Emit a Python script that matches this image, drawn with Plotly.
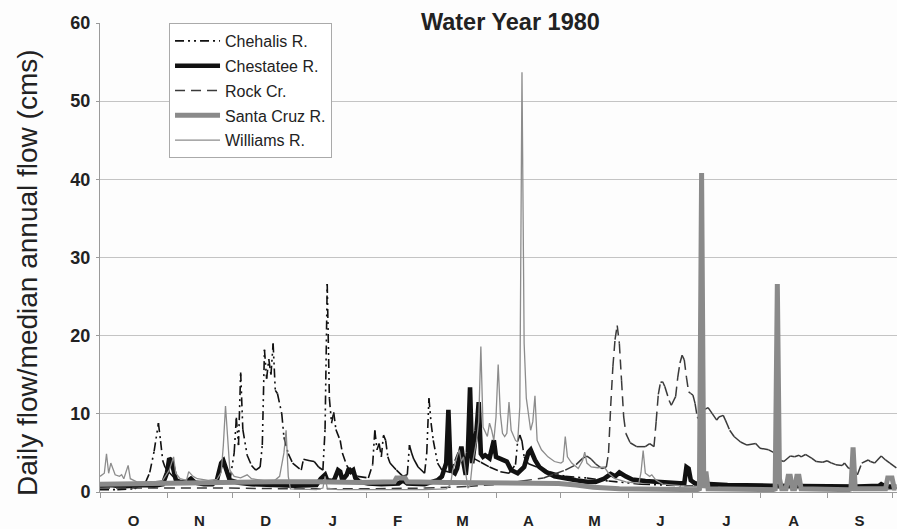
import plotly.graph_objects as go

# Water year 1980: day 0 = 1 Oct 1979. Values are daily flow divided by median annual flow.
month_labels = ["O", "N", "D", "J", "F", "M", "A", "M", "J", "J", "A", "S"]
month_starts = [0, 31, 61, 92, 123, 152, 183, 213, 244, 274, 305, 336, 366]

chehalis_day = [0, 8, 16, 18, 21, 23, 25, 27, 28, 29, 30, 32, 35, 40, 48, 55, 60, 62, 63, 64, 65, 66, 68, 70,
                72, 74, 75, 76, 77, 78, 79, 80, 81, 82, 84, 85, 87, 89, 93, 94, 97, 99, 101, 103, 104, 105,
                106, 107, 108, 109, 111, 112, 114, 116, 119, 124, 126, 127, 128, 129, 130, 131, 132, 133,
                134, 137, 140, 142, 143, 144, 145, 147, 150, 151, 152, 153, 154, 156, 158, 162, 164, 166,
                168, 170, 172, 176, 180, 185, 189, 192, 193, 194, 195, 196, 198, 202, 208, 215, 225, 235,
                250, 270, 300, 330, 368]
chehalis_q = [0.3, 0.3, 0.4, 0.8, 1.2, 2.5, 5.2, 8.8, 6.5, 4.0, 3.2, 2.5, 1.6, 1.3, 1.1, 1.0, 1.4, 5.0, 9.5,
              6.0, 15.3, 8.0, 4.7, 3.4, 2.8, 3.2, 6.0, 18.2, 14.5, 17.0, 15.0, 19.0, 13.0, 12.6, 10.0, 7.0,
              4.9, 3.7, 2.8, 4.2, 4.0, 3.9, 3.2, 2.8, 8.0, 26.6, 12.0, 8.8, 10.2, 8.0, 6.6, 5.0, 3.4, 2.5,
              2.0, 1.8, 3.5, 7.9, 5.4, 6.2, 4.5, 7.3, 6.6, 4.5, 3.7, 2.8, 2.0, 2.2, 6.0, 5.0, 4.2, 3.2, 2.4,
              5.0, 12.0, 8.8, 6.6, 3.7, 2.8, 2.5, 4.0, 5.4, 4.0, 4.7, 4.4, 3.8, 3.2, 2.6, 2.4, 3.5, 6.5, 7.3,
              6.5, 4.5, 3.6, 3.2, 2.6, 2.0, 1.8, 1.4, 1.0, 0.8, 0.6, 0.5, 0.5]

chestatee_day = [0, 5, 10, 15, 20, 25, 29, 31, 32, 33, 34, 35, 37, 40, 42, 44, 48, 52, 54, 55, 56, 57, 58, 59,
                 60, 64, 70, 80, 90, 100, 102, 104, 105, 108, 110, 111, 112, 114, 115, 116, 117, 118, 120,
                 124, 130, 138, 140, 142, 150, 156, 158, 160, 161, 162, 164, 165, 166, 167, 168, 169, 170,
                 171, 172, 173, 174, 175, 176, 177, 178, 180, 182, 183, 186, 188, 190, 193, 196, 198, 199,
                 201, 203, 206, 210, 215, 220, 225, 229, 233, 236, 238, 240, 243, 246, 252, 260, 268, 270,
                 271, 272, 273, 275, 290, 310, 330, 350, 360, 361, 363, 368]
chestatee_q = [0.8, 0.9, 0.7, 0.8, 0.9, 0.8, 1.0, 2.5, 4.3, 4.0, 2.5, 1.6, 1.2, 1.3, 1.7, 1.2, 1.0, 1.0, 1.5,
               2.4, 3.7, 4.0, 3.0, 2.0, 1.5, 1.2, 1.0, 0.9, 0.8, 0.9, 1.7, 2.2, 1.5, 1.4, 2.8, 2.6, 1.5, 2.2,
               3.0, 2.6, 2.8, 1.8, 1.3, 1.1, 1.0, 1.1, 1.5, 1.1, 1.0, 1.5, 2.0, 3.7, 10.5, 2.8, 2.4, 3.0,
               4.5, 5.8, 3.7, 2.2, 5.0, 13.4, 3.7, 5.4, 7.9, 11.5, 4.9, 4.5, 4.7, 4.3, 6.6, 4.5, 4.1, 3.9,
               2.8, 2.4, 3.2, 5.1, 5.4, 4.1, 3.2, 2.6, 2.0, 1.7, 1.5, 1.3, 1.3, 1.7, 2.3, 2.0, 2.5, 2.0, 1.6,
               1.4, 1.2, 1.1, 1.1, 3.2, 3.0, 1.5, 1.1, 0.9, 0.8, 0.7, 0.7, 0.8, 1.0, 0.7, 0.7]

rock_day = [0, 30, 60, 90, 120, 150, 170, 185, 195, 205, 210, 215, 220, 223, 225, 227, 229, 232, 234, 235,
            236, 237, 238, 239, 240, 241, 242, 243, 245, 248, 252, 254, 256, 257, 258, 259, 260, 261, 263,
            264, 266, 267, 268, 269, 270, 271, 272, 273, 274, 275, 276, 277, 279, 281, 283, 285, 286, 288,
            289, 291, 293, 296, 299, 303, 305, 309, 311, 314, 316, 319, 321, 323, 324, 326, 329, 331, 334,
            336, 338, 340, 343, 344, 346, 348, 350, 352, 355, 356, 358, 361, 363, 365, 368]
rock_q = [0.5, 0.5, 0.5, 0.4, 0.4, 0.5, 0.7, 1.0, 1.4, 1.8, 2.3, 2.8, 3.5, 4.3, 4.6, 4.2, 3.6, 3.0, 3.2, 5.0,
          11.0, 16.0, 19.5, 21.3, 19.0, 14.3, 9.6, 7.5, 6.3, 5.8, 5.8, 6.2, 5.8, 9.0, 12.5, 14.0, 14.1, 13.5,
          11.7, 11.1, 12.2, 14.7, 16.5, 17.5, 16.9, 14.7, 12.8, 12.6, 12.4, 11.3, 9.6, 9.2, 10.5, 10.8, 10.0,
          9.2, 9.6, 9.8, 9.2, 7.9, 7.1, 6.4, 6.0, 6.2, 5.6, 5.4, 5.1, 4.1, 3.9, 4.6, 4.5, 4.7, 4.5, 4.8, 4.3,
          3.9, 3.8, 4.0, 3.7, 3.5, 3.4, 3.7, 3.0, 3.1, 2.2, 3.7, 4.1, 3.9, 3.7, 4.6, 4.1, 3.7, 3.1]

santacruz_day = [0, 20, 40, 60, 80, 100, 120, 136, 137, 141, 142, 160, 180, 200, 212, 220, 228, 240, 260, 276,
                 277, 278, 279, 280, 281, 300, 311, 312, 313, 314, 315, 317, 318, 319, 320, 321, 322, 323,
                 324, 346, 347, 348, 349, 363, 364, 366, 367, 368]
santacruz_q = [1.0, 1.1, 1.1, 1.2, 1.3, 1.3, 1.2, 1.3, 1.8, 1.8, 1.3, 1.2, 1.2, 1.2, 1.1, 0.9, 0.6, 0.4, 0.3,
               0.3, 0.4, 40.8, 0.5, 2.6, 0.4, 0.3, 0.3, 0.4, 26.6, 1.7, 0.4, 0.4, 2.0, 2.0, 0.4, 0.4, 2.0,
               2.0, 0.4, 0.3, 0.4, 5.7, 0.4, 0.4, 1.8, 1.8, 0.5, 0.5]

williams_day = [0, 2, 3, 4, 5, 7, 9, 10, 11, 13, 14, 17, 23, 29, 32, 34, 35, 37, 40, 41, 43, 45, 50, 54, 56,
                57, 58, 59, 60, 62, 65, 68, 70, 75, 80, 83, 85, 86, 87, 88, 95, 100, 103, 104, 105, 110, 130,
                150, 160, 162, 163, 164, 166, 167, 168, 169, 170, 171, 172, 173, 174, 175, 176, 177, 178, 179,
                180, 181, 182, 183, 184, 185, 186, 187, 188, 189, 190, 192, 193, 194, 195, 196, 197, 198, 199,
                200, 201, 202, 204, 207, 210, 213, 214, 215, 216, 218, 221, 223, 224, 225, 227, 230, 233, 235,
                238, 243, 249, 250, 251, 252, 254, 255, 257, 260, 268, 280, 300, 330, 368]
williams_q = [2.0, 2.4, 4.9, 2.4, 3.7, 2.2, 2.0, 2.2, 1.7, 3.4, 1.7, 1.3, 1.2, 1.5, 2.8, 4.5, 2.4, 1.7, 1.5,
              2.6, 2.0, 1.7, 1.5, 1.6, 2.5, 6.0, 11.0, 6.2, 2.8, 2.0, 1.8, 2.2, 1.7, 1.5, 1.3, 2.0, 5.0, 7.9,
              2.0, 0.4, 0.3, 0.3, 0.5, 2.0, 0.5, 0.3, 0.3, 0.3, 0.4, 1.0, 2.8, 3.7, 5.4, 3.9, 4.5, 2.4, 0.5,
              0.8, 3.5, 5.0, 6.5, 9.0, 18.6, 8.3, 7.6, 7.1, 8.8, 7.9, 6.6, 9.6, 16.3, 10.0, 7.5, 7.1, 7.5,
              11.5, 7.9, 6.6, 6.4, 10.9, 53.7, 19.0, 12.0, 9.6, 7.9, 9.0, 12.3, 6.6, 5.4, 4.5, 3.9, 3.7, 3.9,
              7.1, 4.5, 3.7, 3.0, 4.0, 5.1, 3.7, 3.2, 3.1, 3.2, 2.4, 1.7, 1.3, 1.1, 2.5, 5.3, 2.4, 2.0, 2.2,
              1.5, 1.0, 0.8, 0.6, 0.5, 0.4, 0.3]

FONT = "Liberation Sans, Arial, sans-serif"
INK = "#222222"


def per_segment(xs, ys):
    """Split a polyline into separate subpaths so the dash pattern restarts at every
    data point: short, gentle stretches then read as solid and steep ones as dashed."""
    sx, sy = [], []
    for i in range(len(xs) - 1):
        sx += [xs[i], xs[i + 1], None]
        sy += [ys[i], ys[i + 1], None]
    return sx, sy


series = [
    ("Chehalis R.", chehalis_day, chehalis_q,
     dict(color="#111111", width=1.6, dash="9px,4px,2px,4px,2px,4px"), True),
    ("Chestatee R.", chestatee_day, chestatee_q, dict(color="#111111", width=4.6), False),
    ("Rock Cr.", rock_day, rock_q, dict(color="#3a3a3a", width=1.5, dash="10px,6px"), True),
    ("Santa Cruz R.", santacruz_day, santacruz_q, dict(color="#8a8a8a", width=5), False),
    ("Williams R.", williams_day, williams_q, dict(color="#8c8c8c", width=1.3), False),
]

fig = go.Figure()
for name, d, q, line, split in series:
    x, y = per_segment(d, q) if split else (d, q)
    fig.add_trace(go.Scatter(x=x, y=y, mode="lines", name=name, line=line,
                             connectgaps=False, legendgroup=name, hoverinfo="skip"))

# month labels sit in the middle of each month, tick marks on the month boundaries
month_mid = [(a + b) / 2 for a, b in zip(month_starts[:-1], month_starts[1:])]

fig.update_layout(
    width=897, height=529,
    margin=dict(l=100, r=0, t=23, b=37),
    paper_bgcolor="#fdfdfd", plot_bgcolor="#fdfdfd",
    font=dict(family=FONT, color=INK),
    title=dict(text="<b>Water Year 1980</b>", x=0.569, xanchor="center", xref="container",
               y=0.958, yanchor="middle", yref="container",
               font=dict(size=23.5, color=INK, family=FONT)),
    showlegend=True,
    legend=dict(x=0.0866, y=1.0, xanchor="left", yanchor="top",
                bgcolor="#ffffff", bordercolor="#aaaaaa", borderwidth=1,
                font=dict(size=16, color=INK, family=FONT),
                traceorder="grouped", tracegroupgap=1, itemwidth=45),
    xaxis=dict(range=[0, 368.3], showgrid=False, zeroline=False,
               showline=True, linecolor="#9a9a9a", linewidth=1,
               tickmode="array", tickvals=month_mid, ticktext=month_labels,
               ticks="", ticklabelstandoff=15,
               tickfont=dict(size=15, color=INK, family=FONT, weight="bold"),
               minor=dict(tickmode="array", tickvals=month_starts, ticks="outside",
                          ticklen=5, tickcolor="#9a9a9a", showgrid=False)),
    yaxis=dict(range=[0, 60], dtick=10, showgrid=True, gridcolor="#c4c4c4", gridwidth=1,
               zeroline=False, showline=True, linecolor="#9a9a9a", linewidth=1,
               ticks="outside", ticklen=3, tickcolor="#9a9a9a", ticklabelstandoff=2,
               tickfont=dict(size=18, color=INK, family=FONT, weight="bold")),
    annotations=[dict(text="Daily flow/median annual flow (cms)", xref="paper", yref="paper",
                      x=-0.0916, y=0.469, xanchor="center", yanchor="middle", textangle=-90,
                      showarrow=False, font=dict(size=28, color=INK, family=FONT))],
)

fig.write_html("out.html")
